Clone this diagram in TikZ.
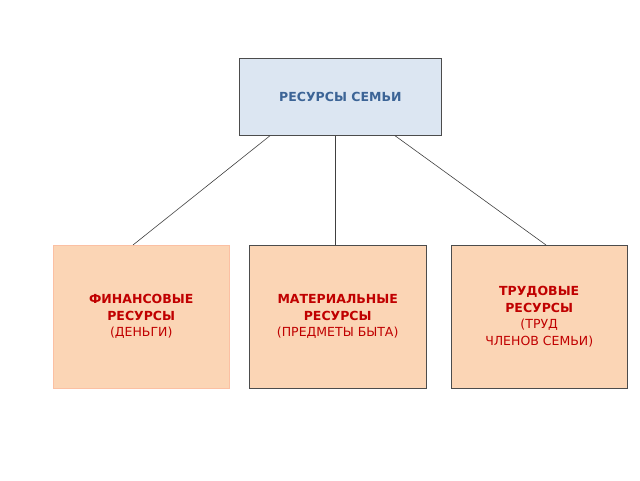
\documentclass[tikz,border=0pt]{standalone}
\usepackage{fontspec}
\setmainfont{DejaVu Sans}
\usetikzlibrary{calc}
\definecolor{peach}{HTML}{FBD5B5}
\definecolor{topfill}{HTML}{DCE6F2}
\definecolor{topblue}{HTML}{3C6496}
\definecolor{rtext}{HTML}{C00000}
\begin{document}
\begin{tikzpicture}[x=1pt,y=-1pt,
  res/.style={fill=peach,minimum width=176pt,minimum height=143pt,anchor=north west,inner sep=0pt,align=center,text=rtext,font=\fontsize{12.5}{16.5}\selectfont},
  link/.style={draw=black!75,line width=0.6pt}]
\useasboundingbox (0,0) rectangle (640,480);
\node[draw=black!70,line width=0.7pt,fill=topfill,minimum width=202pt,minimum height=77pt,anchor=north west,inner sep=0pt,text=topblue,font=\bfseries\fontsize{12.5}{15}\selectfont] (top) at (239,58) {РЕСУРСЫ СЕМЬИ};
\node[res,draw=peach!90!red] (fin) at (53,245) {\textbf{ФИНАНСОВЫЕ}\\\textbf{РЕСУРСЫ}\\(ДЕНЬГИ)};
\node[res,draw=black!70,minimum width=177pt] (mat) at (249,245) {\textbf{МАТЕРИАЛЬНЫЕ}\\\textbf{РЕСУРСЫ}\\(ПРЕДМЕТЫ БЫТА)};
\node[res,draw=black!70] (tru) at (451,245) {\textbf{ТРУДОВЫЕ}\\\textbf{РЕСУРСЫ}\\(ТРУД\\ЧЛЕНОВ СЕМЬИ)};
\draw[link] ($(top.south west)+(31,0)$) -- ($(fin.north west)+(80,0)$);
\draw[link] ($(top.south west)+(96,0)$) -- ($(mat.north west)+(86,0)$);
\draw[link] ($(top.south west)+(156,0)$) -- ($(tru.north west)+(95,0)$);
\end{tikzpicture}
\end{document}
